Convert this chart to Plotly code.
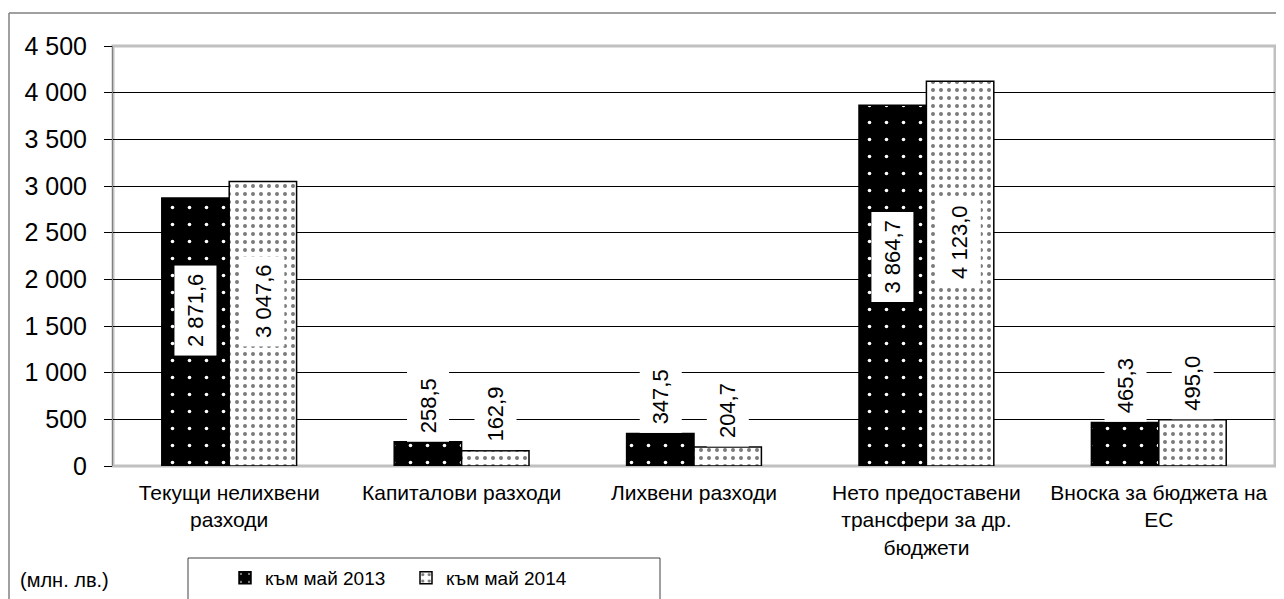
import plotly.graph_objects as go

categories = ["Текущи нелихвени<br>разходи", "Капиталови разходи", "Лихвени разходи",
              "Нето предоставени<br>трансфери за др.<br>бюджети", "Вноска за бюджета на<br>ЕС"]
series_names = ["към май 2013", "към май 2014"]
values_2013 = [2871.6, 258.5, 347.5, 3864.7, 465.3]
values_2014 = [3047.6, 162.9, 204.7, 4123.0, 495.0]
y_ticks = [0, 500, 1000, 1500, 2000, 2500, 3000, 3500, 4000, 4500]

OFF = 8  # page body margin
W, H = 1284 - OFF, 599 - OFF
# plot area in page pixel coordinates
P_L, P_R, P_T, P_B = 113, 1275, 46, 466
ML, MT = P_L - OFF, P_T - OFF
MR = W - (P_R - OFF)
MB = H - (P_B - OFF)
PW, PH = P_R - P_L, P_B - P_T
BARGAP = 0.42
FONT = "Liberation Sans, Arial, sans-serif"


def px_x(page_x):
    return (page_x - P_L) / PW


def px_y(page_y):
    return (P_B - page_y) / PH


def fmt(v):
    s = f"{v:,.1f}"
    return s.replace(",", " ").replace(".", ",")


fig = go.Figure()
fig.add_trace(go.Bar(
    x=categories, y=values_2013, name=series_names[0],
    marker=dict(color="black", line=dict(color="black", width=1.5),
                pattern=dict(shape=".", bgcolor="black", fgcolor="white",
                             size=17, solidity=0.035, fillmode="replace")),
))
fig.add_trace(go.Bar(
    x=categories, y=values_2014, name=series_names[1],
    marker=dict(color="white", line=dict(color="black", width=1.5),
                pattern=dict(shape=".", bgcolor="white", fgcolor="#7a7a7a",
                             size=8, solidity=0.2, fillmode="replace")),
))

bar_px = PW / len(categories) * (1 - BARGAP) / 2
annotations = []
for vals, shift in ((values_2013, -bar_px / 2), (values_2014, bar_px / 2)):
    for c, v in zip(categories, vals):
        big = v > 1000
        annotations.append(dict(
            x=c, y=v * 0.58 if big else v, xref="x", yref="y",
            xshift=shift, yshift=0,
            text=fmt(v), textangle=-90, showarrow=False,
            yanchor="middle" if big else "bottom", xanchor="center",
            bgcolor="white", borderpad=8,
            font=dict(family=FONT, size=22, color="black"),
        ))

annotations.append(dict(
    x=px_x(18), y=px_y(580), xref="paper", yref="paper",
    text="(млн. лв.)", showarrow=False, xanchor="left", yanchor="middle",
    font=dict(family=FONT, size=20, color="black"),
))

shapes = [
    # plot area border
    dict(type="rect", xref="paper", yref="paper", x0=0, y0=0, x1=1, y1=1,
         line=dict(color="#c0c0c0", width=3), layer="between"),
    # outer chart frame (top and left)
    dict(type="line", xref="paper", yref="paper",
         x0=px_x(9), x1=px_x(1300), y0=px_y(13), y1=px_y(13),
         line=dict(color="#808080", width=1.5)),
    dict(type="line", xref="paper", yref="paper",
         x0=px_x(9), x1=px_x(9), y0=px_y(13), y1=px_y(620),
         line=dict(color="#808080", width=1.5)),
    # legend box
    dict(type="rect", xref="paper", yref="paper",
         x0=px_x(188), x1=px_x(660), y0=px_y(558), y1=px_y(620),
         line=dict(color="#404040", width=1), fillcolor="rgba(0,0,0,0)"),
]

fig.update_layout(
    width=W, height=H,
    margin=dict(l=ML, r=MR, t=MT, b=MB, autoexpand=False),
    paper_bgcolor="white", plot_bgcolor="white",
    barmode="group", bargap=BARGAP, bargroupgap=0,
    separators=", ",
    font=dict(family=FONT, color="black"),
    showlegend=True,
    legend=dict(orientation="h", x=px_x(225), y=px_y(578),
                xanchor="left", yanchor="middle", bgcolor="rgba(0,0,0,0)",
                font=dict(family=FONT, size=19, color="black"),
                entrywidth=136, itemwidth=30),
    annotations=annotations,
    shapes=shapes,
)
fig.update_yaxes(range=[0, 4500], tickvals=y_ticks, tickformat=",d",
                 showgrid=True, gridcolor="black", gridwidth=1,
                 showline=True, linecolor="#808080", linewidth=1,
                 ticks="outside", ticklen=8, tickcolor="black",
                 ticklabelstandoff=12,
                 zeroline=False, tickfont=dict(family=FONT, size=25, color="black"))
fig.update_xaxes(showline=False, ticks="", showgrid=False,
                 ticklabelstandoff=12,
                 tickfont=dict(family=FONT, size=21, color="black"))

fig.write_html("out.html")
